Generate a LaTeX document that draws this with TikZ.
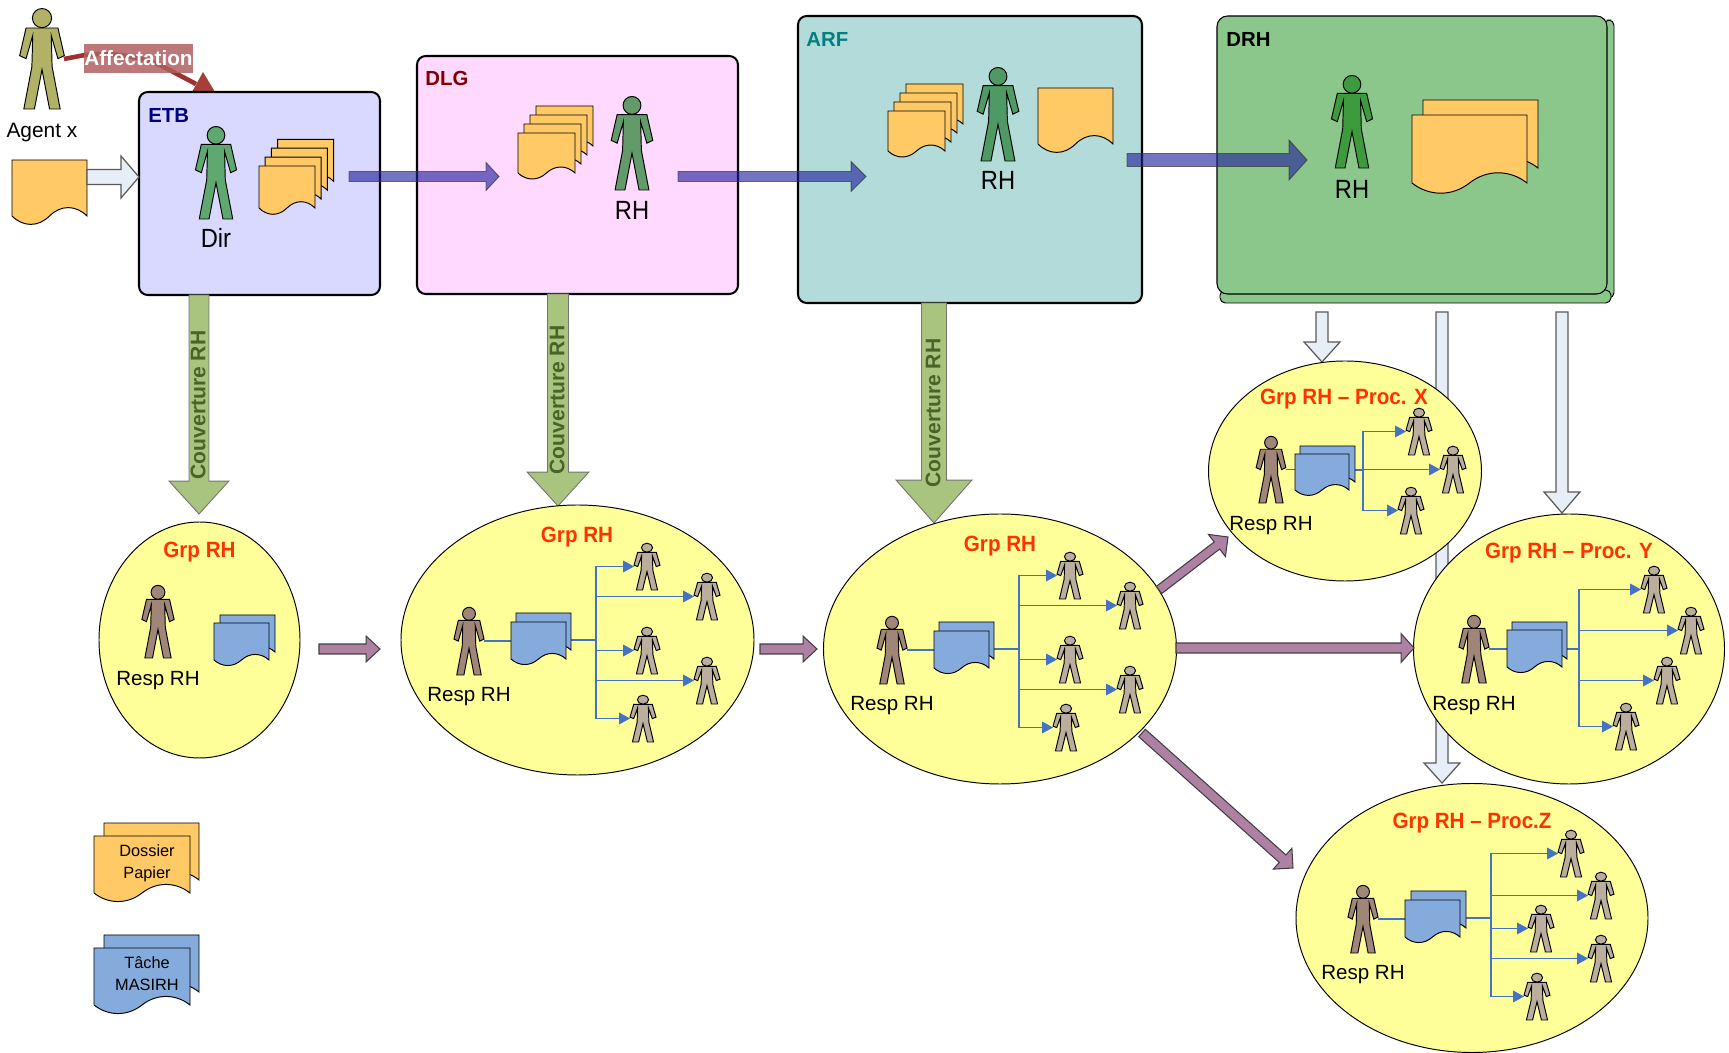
\documentclass[tikz,border=0pt]{standalone}
\usepackage{fontspec}
\setmainfont{Liberation Sans}
\newfontfamily\roleF[FakeStretch=0.9]{Liberation Sans}
\newfontfamily\titleF[FakeStretch=0.93]{Liberation Sans}
\usetikzlibrary{calc,shapes.geometric,arrows.meta}
\newcommand{\pxu}{0.02cm}
\definecolor{docy}{HTML}{FFC966}
\definecolor{docb}{HTML}{85ABDD}
\definecolor{respc}{HTML}{A08678}
\definecolor{staffc}{HTML}{BBAE9E}
\definecolor{linkb}{HTML}{4472C4}
\definecolor{titler}{HTML}{FF3300}
\definecolor{drhg}{HTML}{8BC68B}
\definecolor{ylw}{HTML}{FFFF99}
\definecolor{covtext}{HTML}{486428}
\definecolor{flowb}{HTML}{1F1F9A}
\definecolor{ltb}{HTML}{E8EEF8}
\definecolor{purp}{HTML}{AE81A3}
\definecolor{greenar}{HTML}{A9C47F}
\definecolor{affline}{HTML}{A03030}
\definecolor{affhead}{HTML}{A54038}
\definecolor{afflab}{HTML}{B06060}
\definecolor{etbf}{HTML}{D9D9FF}
\definecolor{dlgf}{HTML}{FFD9FF}
\definecolor{arff}{HTML}{B2DBD9}
\definecolor{etbt}{HTML}{000080}
\definecolor{dlgt}{HTML}{800000}
\definecolor{arft}{HTML}{008080}
\definecolor{agentc}{HTML}{B2B266}
\definecolor{dirc}{HTML}{5FA86F}
\definecolor{rhdlgc}{HTML}{629A6A}
\definecolor{rharfc}{HTML}{4F9A64}
\definecolor{rhdrhc}{HTML}{3D9B3D}
\tikzset{
  outl/.style={draw=black,line width=0.55pt,line join=miter},
  boxst/.style={rectangle,rounded corners=5pt,draw=black,line width=1.15pt,inner sep=0pt,outer sep=0pt},
  titlest/.style={text=titler,font=\titleF\fontsize{12.6}{14}\bfseries\selectfont,inner sep=0pt},
  orgst/.style={font=\fontsize{11.6}{14}\bfseries\selectfont,inner sep=0pt,anchor=west},
  respt/.style={font=\fontsize{11.7}{14}\selectfont,inner sep=0pt},
  rolet/.style={font=\roleF\fontsize{15}{17}\selectfont,inner sep=0pt},
  legt/.style={font=\fontsize{9.3}{12.5}\selectfont,align=center,inner sep=0pt},
  covt/.style={font=\fontsize{12}{14}\bfseries\selectfont,text=covtext,rotate=90,inner sep=0pt},
  bl/.style={draw=linkb,line width=0.65pt},
  blarr/.style={bl,-{Triangle[length=6.2pt,width=6.6pt,fill=linkb]}},
  hflow/.style={fill=flowb,draw=black!80,line width=0.5pt,fill opacity=0.62,draw opacity=0.7},
  ltarrow/.style={fill=ltb,draw=black!65,line width=0.7pt},
  parrow/.style={fill=purp,draw=black!75,line width=0.6pt},
  garrow/.style={fill=greenar,draw=black!55,line width=0.5pt},
}
% name, cx, top, height, fill, node width factor (.44 = plain figure, wider = stretched)
\newcommand{\mkperson}[6]{%
  \node[inner sep=0pt,outer sep=0pt,anchor=north,minimum width={#6*#4*\pxu},minimum height={#4*\pxu}] (#1) at (#2,#3) {};
  \begin{scope}[shift={(#2,#3)},xscale={#4*#6/.44},yscale=#4]
    \path[outl,fill=#5] (-.158,.198)--(.158,.198)--(.221,.472)--(.158,.502)--(.092,.274)--(.10,.58)--(.18,1)--(.075,1)--(0,.61)--(-.075,1)--(-.18,1)--(-.10,.58)--(-.092,.274)--(-.158,.502)--(-.221,.472)--cycle;
    \path[outl,fill=#5] (0,.1) circle[radius=.095];
  \end{scope}}
% name, x, y, w, h, fill
\newcommand{\mkdoc}[6]{%
  \node[inner sep=0pt,outer sep=0pt,anchor=north west,minimum width={#4*\pxu},minimum height={#5*\pxu}] (#1) at (#2,#3) {};
  \begin{scope}[shift={(#2,#3)},xscale=#4,yscale=#5]
    \path[outl,fill=#6] (0,0)--(1,0)--(1,1) .. controls (.85,.8) and (.65,.8) .. (.5,1) .. controls (.35,1.2) and (.15,1.2) .. (0,1) -- cycle;
  \end{scope}}
% name, x0, y0, x1, y1, fill
\newcommand{\mkbox}[6]{%
  \node[boxst,fill=#6,minimum width={(#4-#2)*\pxu},minimum height={(#5-#3)*\pxu}] (#1) at ({(#2+#4)/2},{(#3+#5)/2}) {};}
% name, cx, cy, rx, ry
\newcommand{\mkgrp}[5]{%
  \node[ellipse,draw=black,line width=0.55pt,fill=ylw,inner sep=0pt,outer sep=0pt,minimum width={2*#4*\pxu},minimum height={2*#5*\pxu}] (#1) at (#2,#3) {};}
% style, from, to, shaft half, head half, head length (all px)
\newcommand{\barrow}[6]{%
  \coordinate (hb) at ($(#3)!#6*0.567pt!(#2)$);
  \path[#1] ($(#2)!#4*0.567pt!90:(#3)$) -- ($(hb)!#4*0.567pt!-90:(#2)$) -- ($(hb)!#5*0.567pt!-90:(#2)$) -- (#3) -- ($(hb)!#5*0.567pt!90:(#2)$) -- ($(hb)!#4*0.567pt!90:(#2)$) -- ($(#2)!#4*0.567pt!-90:(#3)$) -- cycle;}
\begin{document}
\begin{tikzpicture}[x=0.02cm,y=-0.02cm]
\useasboundingbox (0,0) rectangle (1729,1053);

% --- Affectation connector (runs behind ETB box)
\coordinate (affs) at (64,59);
\coordinate (affm) at (160,65);
\coordinate (affe) at (196,84);
\draw[draw=affline,line width=2.6pt] (affs) -- (85,55) .. controls (115,52) and (135,56) .. (affm) -- (affe);
\path[fill=affhead] (203,72) -- (192,92) -- (215,92) -- cycle;

% --- organisation boxes
\path[draw=black,line width=0.55pt,fill=drhg,rounded corners=3pt] (1604,20) rectangle (1614,298);
\path[draw=black,line width=0.55pt,fill=drhg,rounded corners=3pt] (1220,290) rectangle (1611,303);
\mkbox{etb}{139}{92}{380}{295}{etbf}
\mkbox{dlg}{417}{56}{738}{294}{dlgf}
\mkbox{arf}{798}{16}{1142}{303}{arff}
\node[rectangle,rounded corners=6pt,draw=black,line width=0.6pt,fill=drhg,inner sep=0pt,minimum width={390*\pxu},minimum height={278*\pxu}] (drh) at (1412,155) {};

% box labels
\node[orgst,text=etbt] (letb) at (148,115) {ETB};
\node[orgst,text=dlgt] (ldlg) at (425,78) {DLG};
\node[orgst,text=arft] (larf) at (806,39) {ARF};
\node[orgst,text=black] (ldrh) at (1226,39) {DRH};

% Affectation label
\node[fill=afflab,fill opacity=0.85,text opacity=1,text=white,font=\fontsize{11.8}{14}\bfseries\selectfont,inner sep=0pt,minimum width={109*\pxu},minimum height={29*\pxu}] (aff) at (138.5,58.5) {Affectation};

% Agent and input
\mkperson{agent}{42}{8}{101}{agentc}{.44}
\node[font=\fontsize{11.9}{14}\selectfont,inner sep=0pt] (lagent) at (42,132) {Agent x};
\mkdoc{indoc}{12}{160}{75}{56}{docy}
\coordinate (ins) at (87,177);
\coordinate (ine) at (139,177);
\barrow{ltarrow}{ins}{ine}{7.5}{21}{18}

% ETB content
\mkperson{dir}{216}{126}{93}{dirc}{.44}
\node[rolet] (ldir) at (216,238) {Dir};
\mkdoc{e3}{277.6}{139.3}{56}{42}{docy}
\mkdoc{e2}{271.4}{148.2}{56}{42}{docy}
\mkdoc{e1}{265.2}{157.1}{56}{42}{docy}
\mkdoc{e0}{259}{166}{56}{42}{docy}

% DLG content
\mkdoc{d3}{536}{106}{57}{40}{docy}
\mkdoc{d2}{530}{115}{57}{40}{docy}
\mkdoc{d1}{524}{124}{57}{40}{docy}
\mkdoc{d0}{518}{133}{57}{40}{docy}
\mkperson{rhdlg}{632}{96}{94}{rhdlgc}{.44}
\node[rolet] (lrhdlg) at (632,210) {RH};

% ARF content
\mkdoc{a3}{906}{84}{57}{40}{docy}
\mkdoc{a2}{900}{93}{57}{40}{docy}
\mkdoc{a1}{894}{102}{57}{40}{docy}
\mkdoc{a0}{888}{111}{57}{40}{docy}
\mkperson{rharf}{998}{67}{94}{rharfc}{.44}
\node[rolet] (lrharf) at (998,180) {RH};
\mkdoc{asingle}{1038}{88}{75}{56}{docy}

% DRH content
\mkperson{rhdrh}{1352}{75}{93}{rhdrhc}{.44}
\node[rolet] (lrhdrh) at (1352,189) {RH};
\mkdoc{dr1}{1423}{100}{115}{68}{docy}
\mkdoc{dr0}{1412}{115}{115}{68}{docy}

% horizontal flow arrows
\coordinate (f1s) at (349,176.5);
\coordinate (f1e) at (499,176.5);
\coordinate (f2s) at (678,176.5);
\coordinate (f2e) at (866,176.5);
\coordinate (f3s) at (1127,160);
\coordinate (f3e) at (1307,160);
\barrow{hflow}{f1s}{f1e}{5}{14}{13}
\barrow{hflow}{f2s}{f2e}{5}{15}{15}
\barrow{hflow}{f3s}{f3e}{6.5}{20}{18}

% light arrows from DRH (behind the groups)
\coordinate (l1s) at (1322,312);
\coordinate (l1e) at (1322,362);
\coordinate (l2s) at (1442,312);
\coordinate (l2e) at (1442,783);
\coordinate (l3s) at (1562,312);
\coordinate (l3e) at (1562,513);
\barrow{ltarrow}{l1s}{l1e}{6}{18}{20}
\barrow{ltarrow}{l2s}{l2e}{6}{18}{20}
\barrow{ltarrow}{l3s}{l3e}{6}{18}{21}

% green coverage arrows
\coordinate (c1s) at (199,295);
\coordinate (c1e) at (199,514);
\coordinate (c2s) at (558,294);
\coordinate (c2e) at (558,506);
\coordinate (c3s) at (934,303);
\coordinate (c3e) at (934,523);
\barrow{garrow}{c1s}{c1e}{10}{30}{33}
\barrow{garrow}{c2s}{c2e}{10.5}{31}{34}
\barrow{garrow}{c3s}{c3e}{12.5}{38}{43}
\node[covt] (lc1) at (198,405) {Couverture RH};
\node[covt] (lc2) at (557,400) {Couverture RH};
\node[covt] (lc3) at (933,413) {Couverture RH};

% group ellipses
\mkgrp{g1}{199.5}{640}{100.5}{118}
\mkgrp{g2}{577.5}{640}{176.5}{135}
\mkgrp{g3}{1000}{649}{176.5}{135}
\mkgrp{gx}{1345}{471}{136.5}{110}
\mkgrp{gy}{1569}{649}{155.5}{135}
\mkgrp{gz}{1472}{918}{176}{134.5}

% group 1
\node[titlest] (tg1) at (199.5,552) {Grp RH};
\mkperson{g1r}{158}{585}{73}{respc}{.44}
\node[respt] (lg1) at (158,681) {Resp RH};
\mkdoc{g1db}{220}{615}{55}{37}{docb}
\mkdoc{g1df}{214}{623}{55}{37}{docb}

% group 2
\node[titlest] (tg2) at (577,537) {Grp RH};
\coordinate (g2t) at (596,640);
\coordinate (g2p) at (511,640);
\mkperson{g2r}{469}{607}{68}{respc}{.44}
\node[respt] (lg2) at (469,697) {Resp RH};
\draw[bl] (g2r.east) -- (g2r.east -| g2p);
\mkperson{g2a}{647}{543}{47}{staffc}{.55}
\mkperson{g2b}{707}{573}{47}{staffc}{.55}
\mkperson{g2c}{647}{627}{47}{staffc}{.55}
\mkperson{g2d}{707}{657}{47}{staffc}{.55}
\mkperson{g2e}{643}{695}{47}{staffc}{.55}
\draw[bl] (571,640) -- (g2t);
\foreach \q in {a,b,c,d,e} \draw[blarr] (g2t) |- (g2\q.west);
\mkdoc{g2db}{516}{613}{55}{37}{docb}
\mkdoc{g2df}{511}{622}{55}{37}{docb}

% group 3
\node[titlest] (tg3) at (1000,546) {Grp RH};
\coordinate (g3t) at (1019,649);
\coordinate (g3p) at (934,649);
\mkperson{g3r}{892}{616}{68}{respc}{.44}
\node[respt] (lg3) at (892,706) {Resp RH};
\draw[bl] (g3r.east) -- (g3r.east -| g3p);
\mkperson{g3a}{1070}{552}{47}{staffc}{.55}
\mkperson{g3b}{1130}{582}{47}{staffc}{.55}
\mkperson{g3c}{1070}{636}{47}{staffc}{.55}
\mkperson{g3d}{1130}{666}{47}{staffc}{.55}
\mkperson{g3e}{1066}{704}{47}{staffc}{.55}
\draw[bl] (994,649) -- (g3t);
\foreach \q in {a,b,c,d,e} \draw[blarr] (g3t) |- (g3\q.west);
\mkdoc{g3db}{939}{622}{55}{37}{docb}
\mkdoc{g3df}{934}{631}{55}{37}{docb}

% group X
\node[titlest] (tgx) at (1344,399) {Grp RH – Proc. X};
\coordinate (gxt) at (1363,470);
\coordinate (gxp) at (1295,470);
\mkperson{gxr}{1271}{436}{67}{respc}{.44}
\node[respt] (lgx) at (1271,526) {Resp RH};
\draw[bl] (gxr.east) -- (gxr.east -| gxp);
\mkperson{gxa}{1419}{408}{47}{staffc}{.55}
\mkperson{gxb}{1453}{446}{47}{staffc}{.55}
\mkperson{gxc}{1411}{487}{47}{staffc}{.55}
\draw[bl] (1355,470) -- (gxt);
\foreach \q in {a,b,c} \draw[blarr] (gxt) |- (gx\q.west);
\mkdoc{gxdb}{1300}{446}{55}{36}{docb}
\mkdoc{gxdf}{1295}{454}{54}{36}{docb}

% group Y
\node[titlest] (tgy) at (1569,553) {Grp RH – Proc. Y};
\coordinate (gyt) at (1579,649);
\coordinate (gyp) at (1507,649);
\mkperson{gyr}{1474}{615}{68}{respc}{.44}
\node[respt] (lgy) at (1474,706) {Resp RH};
\draw[bl] (gyr.east) -- (gyr.east -| gyp);
\mkperson{gya}{1654}{566}{47}{staffc}{.55}
\mkperson{gyb}{1691}{607}{47}{staffc}{.55}
\mkperson{gyc}{1667}{657}{47}{staffc}{.55}
\mkperson{gyd}{1626}{703}{47}{staffc}{.55}
\draw[bl] (1567,649) -- (gyt);
\foreach \q in {a,b,c,d} \draw[blarr] (gyt) |- (gy\q.west);
\mkdoc{gydb}{1512}{622}{55}{37}{docb}
\mkdoc{gydf}{1507}{630}{55}{37}{docb}

% group Z
\node[titlest] (tgz) at (1472,823) {Grp RH – Proc.Z};
\coordinate (gzt) at (1491,918);
\coordinate (gzp) at (1405,918);
\mkperson{gzr}{1363}{885}{68}{respc}{.44}
\node[respt] (lgz) at (1363,975) {Resp RH};
\draw[bl] (gzr.east) -- (gzr.east -| gzp);
\mkperson{gza}{1571}{830}{47}{staffc}{.55}
\mkperson{gzb}{1601}{872}{47}{staffc}{.55}
\mkperson{gzc}{1541}{905}{47}{staffc}{.55}
\mkperson{gzd}{1601}{935}{47}{staffc}{.55}
\mkperson{gze}{1537}{973}{47}{staffc}{.55}
\draw[bl] (1466,918) -- (gzt);
\foreach \q in {a,b,c,d,e} \draw[blarr] (gzt) |- (gz\q.west);
\mkdoc{gzdb}{1411}{891}{55}{37}{docb}
\mkdoc{gzdf}{1405}{900}{55}{37}{docb}

% purple arrows between groups
\coordinate (p1s) at (319,649);
\coordinate (p1e) at (380,649);
\coordinate (p2s) at (760,649);
\coordinate (p2e) at (817,649);
\coordinate (p3s) at (1176,648);
\coordinate (p3e) at (1414,648);
\coordinate (p4s) at (1159,590);
\coordinate (p4e) at (1228,537);
\coordinate (p5s) at (1142,733);
\coordinate (p5e) at (1293,868);
\barrow{parrow}{p1s}{p1e}{5}{13}{14}
\barrow{parrow}{p2s}{p2e}{5}{13}{14}
\barrow{parrow}{p3s}{p3e}{5}{14.5}{13}
\barrow{parrow}{p4s}{p4e}{4.5}{14}{14}
\barrow{parrow}{p5s}{p5e}{5}{14}{14}

% legend
\mkdoc{ly1}{104}{823}{95}{57}{docy}
\mkdoc{ly0}{94}{836}{96}{57}{docy}
\node[legt] (lyt) at (147,863) {Dossier\\Papier};
\mkdoc{lb1}{104}{935}{95}{57}{docb}
\mkdoc{lb0}{94}{948}{96}{57}{docb}
\node[legt] (lbt) at (147,974) {Tâche\\MASIRH};
\end{tikzpicture}
\end{document}
